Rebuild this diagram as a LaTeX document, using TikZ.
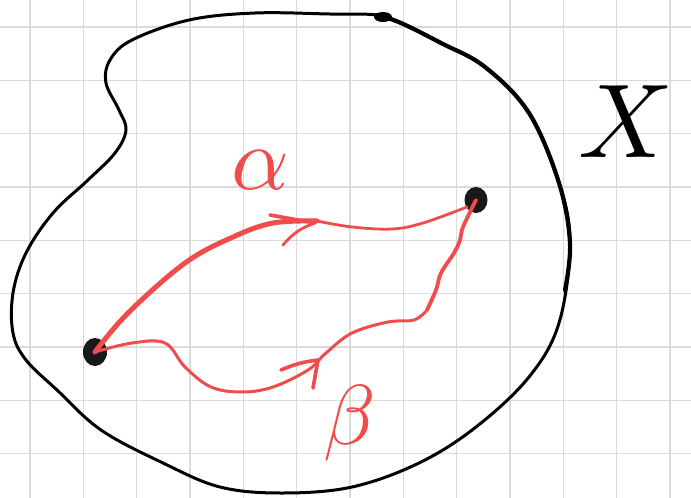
\documentclass[tikz,border=0pt]{standalone}
\usetikzlibrary{shapes.geometric}
\definecolor{gridgray}{RGB}{218,218,218}
\definecolor{penred}{RGB}{240,76,76}
\definecolor{ink}{RGB}{25,25,25}
\tikzset{
  gridline/.style={draw=gridgray,line width=1.5pt},
  outline/.style={draw=black,line width=3pt,line cap=round,line join=round},
  redpen/.style={draw=penred,line cap=round,line join=round},
  dotpt/.style={ellipse,fill=ink,inner sep=0pt},
  lbl/.style={text=penred,inner sep=0pt}
}
\begin{document}
\begin{tikzpicture}[x=1pt,y=-1pt]
\useasboundingbox (0,0) rectangle (691,498);
\fill[white] (0,0) rectangle (691,498);
% grid
\foreach \i in {0,...,12} \draw[gridline] ({30+53.33*\i},0) -- ({30+53.33*\i},498);
\foreach \i in {0,...,8} \draw[gridline] (0,{27+53.33*\i}) -- (691,{27+53.33*\i});
% blob outline
\draw[outline] plot[smooth cycle,tension=0.6] coordinates {
 (377,15) (401,23) (441,43) (485,67) (529,113) (559,183) (570,243) (559,323)
 (529,377) (476,427) (419,463) (352,487) (282,493) (220,487) (163,463) (101,430)
 (57,390) (26,360) (13,333) (13,293) (26,253) (53,213) (88,180) (115,153)
 (126,130) (119,110) (106,83) (110,60) (132,40) (189,20) (255,13) (330,14)};
\draw[outline,line width=4.2pt] plot[smooth,tension=0.6] coordinates {
 (377,15) (401,23) (441,43) (485,67) (529,113) (559,183) (570,243) (565,290)};
\fill[black] (383,17) ellipse (9pt and 5pt);
% points
\node[dotpt,minimum width=24pt,minimum height=28pt] (p) at (95,352) {};
\node[dotpt,minimum width=23pt,minimum height=26pt] (q) at (476,200) {};
% alpha path
\draw[redpen,line width=5pt] plot[smooth,tension=0.6] coordinates {
 (p) (128,313) (185,263) (233,237) (273,223) (317,221)};
\draw[redpen,line width=2.8pt] plot[smooth,tension=0.6] coordinates {
 (317,221) (352,227) (392,229) (423,223) (467,207)};
\coordinate (at) at (315,223);
\coordinate (a1) at (270,215);
\coordinate (a2) at (283,245);
\draw[redpen,line width=3.6pt] (a1) -- (at);
\draw[redpen,line width=2.8pt] (a2) to[bend left=15] (at);
% beta path
\draw[redpen,line width=3pt] plot[smooth,tension=0.6] coordinates {
 (p) (132,343) (165,343) (185,367) (211,387) (242,392) (273,387) (308,370)
 (326,353) (352,333) (388,322) (414,320) (427,310)};
\draw[redpen,line width=3.8pt] plot[smooth,tension=0.6] coordinates {
 (427,310) (436,290) (441,273) (454,253) (460,240) (463,227) (q)};
\coordinate (bt) at (318,360);
\coordinate (b1) at (281,370);
\coordinate (b2) at (313,388);
\draw[redpen,line width=3.6pt] (b1) to[bend left=8] (bt);
\draw[redpen,line width=3.6pt] (b2) -- (bt);
% labels
\node[lbl,scale=9] (alpha) at (260,170) {$\alpha$};
\node[lbl,scale=8.5] (beta) at (350,423) {$\beta$};
\node[inner sep=0pt,scale=10.5] (X) at (626,122) {$X$};
\end{tikzpicture}
\end{document}
